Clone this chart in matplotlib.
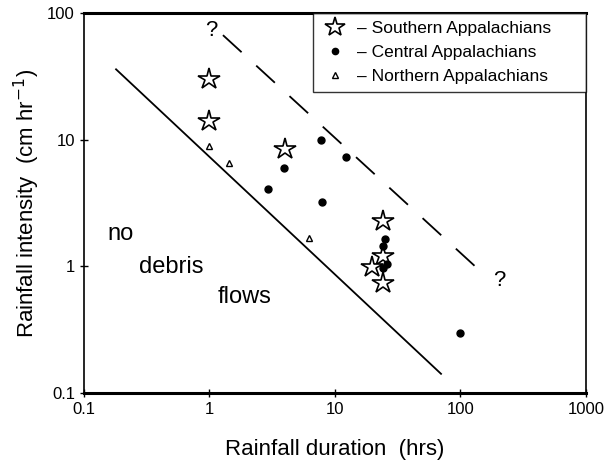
import numpy as np
import matplotlib.pyplot as plt

plt.rcParams['font.family'] = ['Liberation Sans', 'DejaVu Sans']

# Southern Appalachians (open stars)
south_dur = [1.0, 1.0, 4.0, 24.0, 24.0, 19.6, 24.0]
south_int = [30.0, 14.0, 8.5, 2.3, 1.2, 0.99, 0.74]

# Central Appalachians (filled dots)
central_dur = [7.8, 12.2, 3.9, 2.9, 7.9, 25.0, 24.0, 26.0, 24.0, 100.0]
central_int = [10.0, 7.3, 6.0, 4.1, 3.2, 1.66, 1.45, 1.05, 0.98, 0.30]

# Northern Appalachians (open triangles)
north_dur = [1.0, 1.44, 6.2]
north_int = [9.0, 6.5, 1.68]

# threshold line (solid) and upper bound (dashed)
thresh_dur = [0.18, 70.0]
thresh_int = [36.0, 0.142]
upper_dur = [1.28, 151.0]
upper_int = [67.0, 0.88]

fig = plt.figure(figsize=(6.11, 4.68), dpi=100)
ax = fig.add_axes([0.1375, 0.160, 0.8215, 0.812])

ax.plot(thresh_dur, thresh_int, color='black', lw=1.3)
ax.plot(upper_dur, upper_int, color='black', lw=1.3, dashes=(14, 11))

ax.plot(south_dur, south_int, ls='none', marker='*', ms=16, mfc='white',
        mec='black', mew=1.2, label='\u2013 Southern Appalachians', zorder=3)
ax.plot(central_dur, central_int, ls='none', marker='o', ms=5, mfc='black',
        mec='black', label='\u2013 Central Appalachians', zorder=4)
ax.plot(north_dur, north_int, ls='none', marker='^', ms=5, mfc='white',
        mec='black', mew=1.0, label='\u2013 Northern Appalachians', zorder=3)

ax.text(1.03, 73, '?', fontsize=16, ha='center', va='center')
ax.text(203, 0.77, '?', fontsize=16, ha='center', va='center')
ax.text(0.197, 1.8, 'no', fontsize=17, ha='center', va='center')
ax.text(0.50, 0.99, 'debris', fontsize=17, ha='center', va='center')
ax.text(1.90, 0.57, 'flows', fontsize=17, ha='center', va='center')

ax.set_xscale('log')
ax.set_yscale('log')
ax.set_xlim(0.1, 1000)
ax.set_ylim(0.1, 100)
ax.set_xticks([0.1, 1, 10, 100, 1000])
ax.set_xticklabels(['0.1', '1', '10', '100', '1000'])
ax.set_yticks([0.1, 1, 10, 100])
ax.set_yticklabels(['0.1', '1', '10', '100'])
ax.minorticks_off()
ax.tick_params(axis='both', direction='inout', length=6, width=1, labelsize=12)

for side in ['top', 'bottom']:
    ax.spines[side].set_linewidth(2.2)
for side in ['left', 'right']:
    ax.spines[side].set_linewidth(1.2)

ax.set_xlabel('Rainfall duration  (hrs)', fontsize=16, labelpad=16)
ax.set_ylabel('Rainfall intensity  (cm hr$^{-1}$)', fontsize=16, labelpad=4)

leg = ax.legend(loc='upper right', bbox_to_anchor=(0.456, 0.0, 0.544, 1.0),
                mode='expand', borderaxespad=0,
                fontsize=12.5, frameon=True, fancybox=False, handletextpad=0.5,
                handlelength=1.6, labelspacing=0.5, borderpad=0.45,
                markerscale=0.9)
leg.get_frame().set_edgecolor('black')
leg.get_frame().set_linewidth(1.0)

fig.savefig('out.png', dpi=100)
